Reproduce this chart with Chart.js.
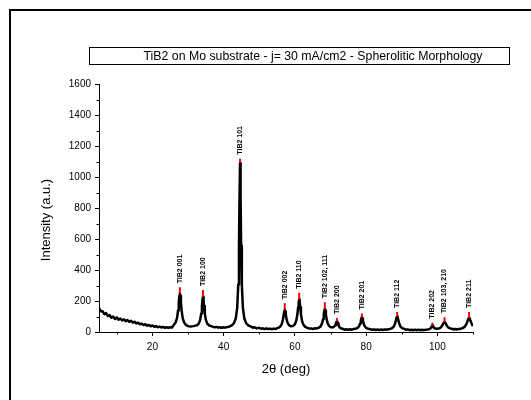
<!DOCTYPE html>
<html>
<head>
<meta charset="utf-8">
<script src="https://cdn.jsdelivr.net/npm/chart.js@4.4.1/dist/chart.umd.min.js"></script>
<style>
  html, body { margin: 0; padding: 0; background: #fff; }
  canvas { display: block; }
</style>
</head>
<body>
<canvas id="xrdChart" width="531" height="400"></canvas>
<script>
// diffractogram (2theta in deg, intensity in a.u.)
const twoTheta = [
  5, 5.5, 6, 6.5, 7, 7.5, 8, 8.5, 9, 9.5, 10, 10.5, 11, 11.5, 12, 12.5, 13, 13.5, 14, 14.5,
  15, 15.5, 16, 16.5, 17, 17.5, 18, 18.5, 19, 19.5, 20, 20.5, 21, 21.5, 22, 22.5, 23, 23.5, 24, 24.5,
  25, 25.5,
  26.0, 26.5, 26.9, 27.2, 27.4, 27.55, 27.7, 27.85, 28.0, 28.2, 28.5, 28.9, 29.4, 30.0, 30.7, 31.5,
  32.5, 33.0, 33.4, 33.7, 33.9, 34.05, 34.2, 34.35, 34.5, 34.7, 35.0, 35.4, 35.9, 36.7, 37.5, 38.0,
  38.5, 39.0, 39.5, 40.0, 40.5, 41.0, 41.5,
  42.3, 42.9, 43.4, 43.8, 44.1, 44.3, 44.45, 44.6, 44.75, 44.9, 45.1, 45.4, 45.8, 46.3, 46.9, 47.7,
  48.2, 48.7, 49.3, 50.0, 50.5, 51.0, 51.5, 52.0, 52.5, 53.0, 53.5, 54.0, 54.5, 55.0,
  55.45, 55.95, 56.35, 56.65, 56.85, 57.0, 57.15, 57.3, 57.45, 57.65, 57.95, 58.35, 58.85, 59.4,
  60.0, 60.4, 60.7, 60.9, 61.05, 61.2, 61.35, 61.5, 61.7, 62.0, 62.4, 62.9, 63.5, 64.0, 64.5, 65.0,
  65.5, 66.0, 66.3,
  66.7, 67.2, 67.6, 67.9, 68.1, 68.25, 68.4, 68.55, 68.7, 68.9, 69.2, 69.6, 70.1, 70.6, 70.95,
  71.3, 71.5, 71.65, 71.8, 71.95, 72.1, 72.3, 72.6, 73.0, 73.6, 74.0, 74.5, 75.0, 75.5, 76.0, 76.5,
  77.1, 77.6, 78.0, 78.3, 78.5, 78.65, 78.8, 78.95, 79.1, 79.3, 79.6, 80.0, 80.5, 81.2, 81.7, 82.2,
  82.7, 83.2, 83.7, 84.2, 84.7, 85.2, 85.7, 86.2,
  86.7, 87.3, 87.8, 88.1, 88.35, 88.55, 88.7, 88.85, 89.05, 89.3, 89.6, 90.1, 90.7, 91.2, 91.7, 92.2,
  92.7, 93.2, 93.7, 94.2, 94.7, 95.2, 95.7, 96.2, 96.7,
  97.3, 97.8, 98.1, 98.3, 98.45, 98.6, 98.75, 98.9, 99.1, 99.4, 99.8, 100.3,
  100.8, 101.2, 101.5, 101.75, 102.0, 102.25, 102.5, 102.8, 103.2, 103.7, 104.3, 104.7, 105.0, 105.4,
  105.8, 106.2, 106.5,
  107.1, 107.6, 108.0, 108.3, 108.55, 108.75, 108.9, 109.05, 109.25, 109.5, 109.8, 110.0
];
const intensity = [
  156, 134, 134, 115, 122, 103, 109, 92, 99, 84, 94, 80, 87, 74, 82, 70, 77, 66, 72, 60,
  66, 55, 60, 50, 54, 45, 50, 41, 45, 37, 42, 34, 38, 31, 35, 29, 33, 27, 31, 26,
  31, 29,
  46, 61, 90, 139, 191, 232, 250, 232, 191, 139, 90, 61, 46, 38, 35, 38,
  43, 54, 78, 119, 167, 208, 228, 208, 167, 119, 78, 54, 43, 36, 30, 33,
  28, 31, 27, 31, 28, 33, 34,
  43, 57, 88, 156, 307, 557, 877, 1090, 877, 557, 307, 156, 88, 57, 43, 35,
  28, 30, 24, 27, 21, 24, 19, 23, 19, 22, 18, 22, 19, 25,
  28, 37, 53, 81, 110, 133, 143, 133, 110, 85, 58, 44, 37, 38,
  50, 75, 114, 159, 194, 210, 194, 159, 114, 72, 46, 33, 27, 22, 23, 19,
  24, 22, 25,
  27, 36, 54, 83, 114, 139, 150, 139, 114, 83, 56, 39, 31, 30, 33,
  44, 56, 65, 70, 65, 53, 40, 29, 23, 19, 15, 18, 14, 18, 15, 19,
  21, 27, 37, 55, 74, 88, 95, 88, 74, 55, 37, 27, 21, 18, 14, 17,
  13, 16, 12, 16, 13, 17, 15, 18,
  20, 25, 37, 53, 75, 94, 100, 94, 75, 53, 37, 25, 20, 14, 17, 12,
  15, 11, 15, 11, 15, 11, 14, 12, 15,
  16, 19, 24, 32, 38, 42, 38, 34, 27, 23, 21, 22,
  27, 36, 47, 59, 65, 59, 47, 36, 27, 23, 19, 16, 20, 16,
  20, 18, 21,
  25, 33, 45, 60, 76, 87, 90, 87, 76, 60, 45, 38
];

// peak annotations: name, position, top of black peak, top of red mark
const peakNames = ["TiB2 001", "TiB2 100", "TiB2 101", "TiB2 002", "TiB2 110", "TiB2 102, 111",
                   "TiB2 200", "TiB2 201", "TiB2 112", "TiB2 202", "TiB2 103, 210", "TiB2 211"];
const peakPos  = [27.7, 34.2, 44.6, 57.15, 61.2, 68.4, 71.8, 78.8, 88.7, 98.6, 102.0, 108.9];
const peakTop  = [250, 228, 1090, 143, 210, 150, 70, 95, 100, 42, 65, 90];
const markTop  = [288, 271, 1118, 185, 254, 192, 90, 120, 129, 60, 95, 129];

const xMajorTicks = [20, 40, 60, 80, 100];
const xMinorTicks = [10, 30, 50, 70, 90, 110];
const yMajorTicks = [0, 200, 400, 600, 800, 1000, 1200, 1400, 1600];
const yMinorTicks = [100, 300, 500, 700, 900, 1100, 1300, 1500];

const chartTitle = "TiB2 on Mo substrate - j= 30 mA/cm2 - Spherolitic Morphology";
const xTitle = "2\u03b8 (deg)";
const yTitle = "Intensity (a.u.)";

const FONT = "'Liberation Sans', Arial, Helvetica, sans-serif";
Chart.defaults.font.family = FONT;

const pattern = twoTheta.map((t, i) => ({ x: t, y: intensity[i] }));

// red marks on top of the peaks, one segment per peak
const marks = [];
peakPos.forEach((p, i) => {
  marks.push({ x: p, y: peakTop[i] }, { x: p, y: markTop[i] }, { x: p, y: null });
});

const decor = {
  id: "decor",
  beforeDraw(chart) {
    const ctx = chart.ctx;
    ctx.save();
    ctx.fillStyle = "#fff";
    ctx.fillRect(0, 0, chart.width, chart.height);
    // outer frame (runs off the right and bottom edge)
    ctx.strokeStyle = "#000";
    ctx.lineWidth = 2;
    ctx.strokeRect(10, 10, 560, 430);
    ctx.restore();
  },
  afterDraw(chart) {
    const ctx = chart.ctx;
    const area = chart.chartArea;
    const xs = chart.scales.x, ys = chart.scales.y;
    ctx.save();

    // title box
    ctx.strokeStyle = "#000";
    ctx.lineWidth = 1;
    ctx.strokeRect(89.5, 47.5, 420, 17);
    ctx.fillStyle = "#000";
    ctx.font = "12.3px " + FONT;
    ctx.textAlign = "center";
    ctx.textBaseline = "middle";
    ctx.fillText(chartTitle, 313, 56.5);

    // axis titles
    ctx.font = "13px " + FONT;
    ctx.fillText(xTitle, 286, 369);
    ctx.save();
    ctx.translate(46, 220);
    ctx.rotate(-Math.PI / 2);
    ctx.fillText(yTitle, 0, 0);
    ctx.restore();

    // minor ticks
    ctx.beginPath();
    xMinorTicks.forEach(v => {
      const px = Math.round(xs.getPixelForValue(v)) + 0.5;
      ctx.moveTo(px, area.bottom);
      ctx.lineTo(px, area.bottom + 2.5);
    });
    yMinorTicks.forEach(v => {
      const py = Math.round(ys.getPixelForValue(v)) + 0.5;
      ctx.moveTo(area.left, py);
      ctx.lineTo(area.left - 2.5, py);
    });
    ctx.stroke();

    // peak labels, rotated
    ctx.font = "bold 7px " + FONT;
    ctx.textAlign = "left";
    ctx.textBaseline = "middle";
    peakNames.forEach((name, i) => {
      const px = xs.getPixelForValue(peakPos[i]);
      const py = ys.getPixelForValue(markTop[i]) - 4;
      ctx.save();
      ctx.translate(px, py);
      ctx.rotate(-Math.PI / 2);
      ctx.fillText(name, 0, 0);
      ctx.restore();
    });
    ctx.restore();
  }
};

new Chart(document.getElementById("xrdChart"), {
  type: "line",
  data: {
    datasets: [
      {
        data: marks,
        borderColor: "#ff0000",
        borderWidth: 2,
        pointRadius: 0,
        spanGaps: false,
        tension: 0
      },
      {
        data: pattern,
        borderColor: "#000",
        borderWidth: 2.5,
        borderJoinStyle: "round",
        pointRadius: 0,
        tension: 0
      }
    ]
  },
  options: {
    responsive: false,
    animation: false,
    events: [],
    layout: { padding: { top: 84, right: 58, left: 0, bottom: 0 } },
    plugins: {
      legend: { display: false },
      tooltip: { enabled: false }
    },
    scales: {
      x: {
        type: "linear",
        min: 5,
        max: 110,
        afterBuildTicks: s => { s.ticks = xMajorTicks.map(v => ({ value: v })); },
        afterFit: s => { s.height = 68; },
        grid: { drawOnChartArea: false, tickLength: 4, tickColor: "#000", tickWidth: 1 },
        border: { color: "#000", width: 1 },
        ticks: { color: "#000", font: { size: 10 }, padding: 5, maxRotation: 0, callback: v => String(v) }
      },
      y: {
        type: "linear",
        min: 0,
        max: 1600,
        afterBuildTicks: s => { s.ticks = yMajorTicks.map(v => ({ value: v })); },
        afterFit: s => { s.width = 99; },
        grid: { drawOnChartArea: false, tickLength: 4, tickColor: "#000", tickWidth: 1 },
        border: { color: "#000", width: 1 },
        ticks: { color: "#000", font: { size: 10 }, padding: 4, callback: v => String(v) }
      }
    }
  },
  plugins: [decor]
});
</script>
</body>
</html>
